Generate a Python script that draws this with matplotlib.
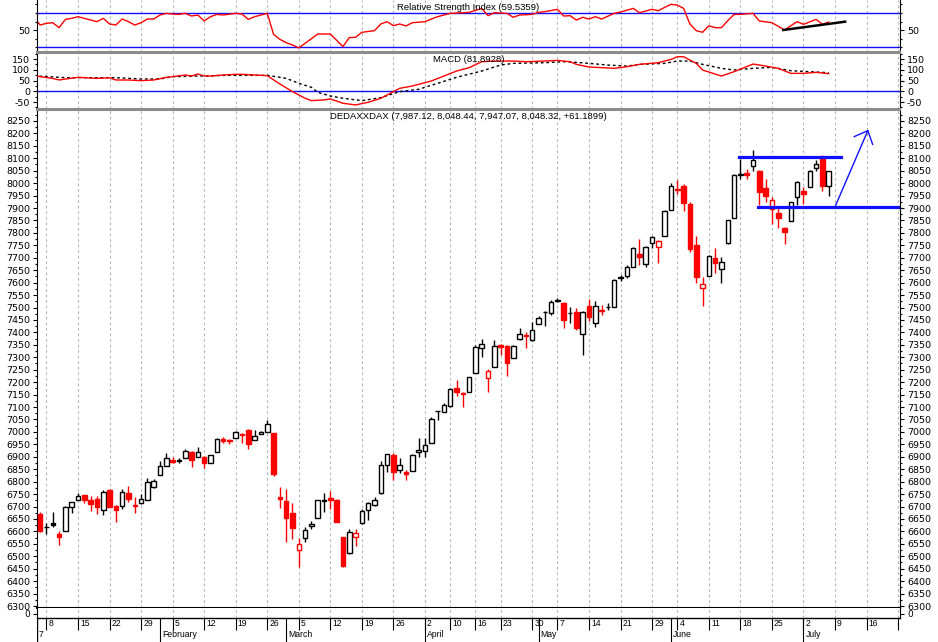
import matplotlib.pyplot as plt
from matplotlib.ticker import MultipleLocator

plt.rcParams['font.family'] = ['DejaVu Sans']
plt.rcParams['axes.unicode_minus'] = False

# DAX daily candles, 5 Jan 2007 .. 6 Jul 2007 (index = trading day)
opens = [6670, 6616, 6635, 6589, 6603, 6699, 6727, 6745, 6726, 6731,
         6687, 6765, 6702, 6702, 6753, 6705, 6713, 6726, 6780, 6828,
         6863, 6886, 6882, 6894, 6920, 6900, 6900, 6876, 6920, 6970,
         6969, 6974, 6991, 7006, 6966, 6991, 7001, 6994, 6737, 6722,
         6672, 6525, 6572, 6620, 6655, 6722, 6735, 6726, 6579, 6512,
         6576, 6632, 6686, 6705, 6753, 6866, 6907, 6845, 6840, 6843,
         6919, 6923, 6954, 7082, 7081, 7104, 7178, 7158, 7159, 7235,
         7336, 7215, 7262, 7351, 7347, 7296, 7372, 7390, 7370, 7434,
         7480, 7479, 7527, 7517, 7477, 7481, 7394, 7506, 7437, 7489,
         7501, 7504, 7619, 7627, 7664, 7715, 7675, 7761, 7745, 7789,
         7890, 7975, 7989, 7916, 7751, 7580, 7627, 7700, 7654, 7758,
         7859, 8034, 8040, 8069, 8049, 7979, 7896, 7881, 7818, 7849,
         7946, 7970, 7983, 8060, 8104, 7987.12]
highs = [6678, 6635, 6676, 6601, 6702, 6719, 6754, 6748, 6742, 6742,
         6765, 6769, 6706, 6769, 6782, 6740, 6749, 6813, 6812, 6884,
         6916, 6898, 6894, 6930, 6924, 6938, 6903, 6906, 6975, 6981,
         6972, 7004, 6994, 7013, 7008, 7002, 7048, 6997, 6780, 6769,
         6713, 6572, 6616, 6643, 6726, 6754, 6762, 6729, 6579, 6608,
         6608, 6689, 6720, 6737, 6883, 6911, 6914, 6896, 6847, 6910,
         6974, 6974, 7061, 7084, 7115, 7178, 7209, 7160, 7222, 7349,
         7372, 7253, 7370, 7353, 7349, 7350, 7416, 7403, 7440, 7467,
         7487, 7530, 7540, 7521, 7504, 7500, 7486, 7534, 7528, 7510,
         7517, 7613, 7631, 7671, 7742, 7774, 7747, 7788, 7770, 7892,
         8002, 8013, 7997, 7926, 7788, 7624, 7710, 7741, 7705, 7853,
         8036, 8096, 8056, 8133, 8052, 8016, 7946, 7902, 7822, 7925,
         8010, 7986, 8052, 8091, 8113, 8048.44]
lows = [6599, 6589, 6619, 6546, 6603, 6672, 6727, 6715, 6683, 6670,
        6664, 6697, 6639, 6690, 6718, 6672, 6712, 6726, 6774, 6828,
        6863, 6874, 6874, 6894, 6860, 6898, 6853, 6876, 6920, 6954,
        6952, 6974, 6954, 6932, 6966, 6990, 6998, 6823, 6693, 6559,
        6568, 6458, 6559, 6611, 6653, 6679, 6689, 6636, 6458, 6509,
        6542, 6630, 6646, 6703, 6750, 6840, 6807, 6836, 6806, 6841,
        6898, 6900, 6954, 7048, 7079, 7101, 7146, 7099, 7159, 7235,
        7302, 7162, 7262, 7309, 7225, 7296, 7370, 7339, 7367, 7432,
        7426, 7470, 7524, 7416, 7437, 7410, 7309, 7446, 7420, 7470,
        7490, 7503, 7608, 7618, 7664, 7671, 7664, 7738, 7680, 7789,
        7890, 7956, 7886, 7725, 7597, 7508, 7627, 7638, 7600, 7756,
        7858, 8016, 8016, 8050, 7912, 7926, 7835, 7818, 7754, 7849,
        7912, 7916, 7983, 8049, 7970, 7947.07]
closes = [6603, 6618, 6627, 6576, 6698, 6717, 6741, 6727, 6711, 6698,
          6758, 6698, 6687, 6758, 6729, 6702, 6731, 6797, 6801, 6861,
          6894, 6880, 6885, 6924, 6886, 6920, 6874, 6906, 6971, 6965,
          6962, 6998, 6987, 6951, 6984, 7001, 7032, 6831, 6729, 6652,
          6615, 6548, 6605, 6630, 6726, 6727, 6725, 6636, 6462, 6599,
          6592, 6683, 6713, 6726, 6867, 6911, 6840, 6867, 6831, 6907,
          6927, 6947, 7052, 7083, 7108, 7171, 7162, 7151, 7219, 7343,
          7352, 7246, 7347, 7343, 7276, 7347, 7392, 7387, 7410, 7459,
          7482, 7521, 7529, 7450, 7479, 7419, 7483, 7463, 7508, 7487,
          7503, 7609, 7621, 7662, 7738, 7702, 7742, 7782, 7767, 7886,
          7989, 7973, 7922, 7734, 7621, 7595, 7709, 7680, 7682, 7852,
          8033, 8037, 8034, 8091, 7966, 7950, 7932, 7861, 7805, 7923,
          8006, 7957, 8050, 8076, 7990, 8048.32]

# RSI (14)
rsi_idx = [-1, 0, 1, 2, 3, 4, 5, 6, 7, 9, 10, 11, 12, 13, 14, 15, 16, 17, 18, 19,
           20, 21, 22, 23, 24, 25, 26, 27, 28, 29, 31, 32, 33, 34, 35, 36, 37, 38, 39, 40,
           41, 42, 43, 44, 45, 46, 48, 49, 50, 51, 53, 54, 55, 56, 57, 58, 59, 61, 62, 63,
           64, 65, 68, 70, 71, 72, 74, 75, 76, 78, 79, 80, 82, 83, 84, 85, 86, 87, 88, 89,
           91, 92, 94, 95, 97, 98, 99, 100, 101, 102, 103, 104, 105, 106, 107, 108, 109, 110, 111, 113,
           114, 116, 118, 119, 120, 121, 123, 124, 125]
rsi_val = [65, 56.0, 58.0, 58.7, 52.9, 62.6, 63.8, 65.7, 63.8, 59.9, 63.8, 57.2, 56.0, 63.0, 59.9, 56.0, 58.7, 63.0, 63.0, 67.7,
           69.6, 68.8, 68.4, 69.6, 66.5, 67.7, 60.7, 65.7, 68.4, 67.7, 69.6, 68.8, 62.6, 65.7, 67.7, 69.6, 45.1, 39.3, 35.4, 32.7,
           29.2, 34.7, 40.0, 45.5, 45.5, 45.5, 30.8, 41.3, 41.7, 47.5, 49.4, 57.2, 59.9, 55.2, 57.2, 54.9, 58.7, 59.9, 63.0, 65.7,
           67.7, 69.6, 70.8, 75.4, 66.9, 70.4, 69.6, 65.0, 67.7, 68.4, 70.8, 71.6, 74.3, 66.5, 66.9, 61.8, 65.0, 63.0, 65.7, 63.0,
           69.6, 71.2, 75.4, 70.4, 74.3, 72.7, 76.6, 80.1, 79.3, 75.4, 57.2, 49.4, 47.5, 55.2, 52.9, 52.9, 61.1, 68.4, 68.4, 69.6,
           60.7, 58.7, 50.2, 55.2, 59.9, 56.8, 62.6, 56.8, 59.5359]

# MACD line and signal line
macd_idx = [-1, 0, 2, 3, 4, 6, 9, 11, 12, 14, 16, 18, 20, 21, 23, 24, 25, 26, 27, 29,
            31, 32, 36, 38, 40, 42, 43, 45, 46, 48, 50, 52, 54, 56, 57, 59, 62, 64, 66, 68,
            70, 72, 75, 77, 80, 82, 84, 85, 87, 89, 91, 93, 95, 98, 100, 101, 102, 104, 105, 108,
            110, 113, 115, 117, 119, 121, 123, 125]
macd_val = [72, 68, 60, 52.6, 57, 65, 60, 63, 52.6, 52.6, 49.5, 52.6, 65, 68, 75.8, 71, 80.4, 71, 71, 75.8,
            79, 79, 72.7, 34, -1.5, -32.5, -43.3, -40, -35.6, -55.7, -63.4, -51, -32.5, -1.5, 13.9, 24.7, 47.9, 71, 94.3, 109.8,
            137.6, 140.7, 140.7, 137.6, 140.7, 143.8, 137.6, 125.3, 113, 110, 106.7, 114.4, 125.3, 133, 148.4, 160.8, 160.8, 129.9, 99, 71,
            91.2, 126.8, 117.5, 106.7, 83.5, 83.5, 88.1, 81.8928]
sig_idx = [-1, 4, 9, 12, 16, 19, 21, 25, 30, 36, 39, 41, 43, 44, 46, 48, 51, 54, 57, 60,
           63, 66, 70, 73, 75, 80, 83, 85, 87, 90, 93, 95, 99, 101, 103, 105, 108, 110, 113, 116,
           119, 122, 125]
sig_val = [72, 63.4, 63.4, 63.4, 57.2, 57.2, 68, 71, 74.2, 74.2, 60.3, 37.1, 18.6, -5, -21.6, -32.5, -43.3, -29.4, -1.5, 9.3,
           37.1, 65, 94.3, 122.2, 129.9, 133, 137.6, 134.5, 130, 122, 117.5, 125.3, 129.9, 140.7, 140.7, 125.3, 106.7, 99, 106.7, 111.3,
           95.9, 91.2, 86.6]

# date axis
week_idx = [1, 6, 11, 16, 21, 26, 31, 36, 41, 46, 51, 56, 61, 65, 69, 73, 78, 82, 87, 92,
            97, 101, 106, 111, 116, 121, 126, 131, 136]
week_lbl = ['8', '15', '22', '29', '5', '12', '19', '26', '5', '12', '19', '26', '2', '10', '16', '23', '30', '7', '14', '21',
            '29', '4', '11', '18', '25', '2', '9', '16', '23']
month_idx = [19, 39, 61, 79, 100, 121]
month_lbl = ['February', 'March', 'April', 'May', 'June', 'July']

# hand-drawn annotations
resist = 8106
support = 7905
arrow_x = [126.0, 131.2]
arrow_y = [7905, 8211]
head_x = [129.05, 131.2, 131.96]
head_y = [8187, 8211, 8156]
rsi_trend_x = [117.8, 127.6]
rsi_trend_y = [50.2, 59.9]

RED = '#ff0000'
BLUE = '#1010ff'
GRID = '#b8b8b8'
SEP = '#8c8c8c'
XL = (-0.5, 136.3)

W, H = 938, 642
fig = plt.figure(figsize=(W / 100, H / 100), dpi=100)


def box(top, bottom):
    return [37 / W, 1 - bottom / H, 863 / W, (bottom - top) / H]


ax_rsi = fig.add_axes(box(0, 52))
ax_macd = fig.add_axes(box(53, 109))
ax = fig.add_axes(box(110, 608))
ax_vol = fig.add_axes(box(608, 618))
ax_date = fig.add_axes(box(618, 642))

for a in [ax_rsi, ax_macd, ax, ax_vol]:
    a.set_xlim(*XL)
    for w in week_idx:
        a.axvline(w, color=GRID, lw=0.8, ls=(0, (2.5, 2.5)), zorder=0)
    a.tick_params(axis='x', bottom=False, labelbottom=False)
    a.tick_params(axis='y', which='both', left=True, right=True, labelleft=True,
                  labelright=True, direction='out', labelsize=6.8, pad=2, width=0.8)
    a.tick_params(axis='y', which='major', length=3)
    a.tick_params(axis='y', which='minor', length=1.5)
    a.spines['left'].set_linewidth(0.8)
    a.spines['right'].set_linewidth(0.8)

# RSI panel
ax_rsi.set_ylim(24.5, 85.2)
ax_rsi.set_yticks([50])
ax_rsi.yaxis.set_minor_locator(MultipleLocator(10))
ax_rsi.axhline(70, color=BLUE, lw=1)
ax_rsi.axhline(30, color=BLUE, lw=1)
ax_rsi.plot(rsi_idx, rsi_val, color=RED, lw=1)
ax_rsi.plot(rsi_trend_x, rsi_trend_y, color='black', lw=1.8)
ax_rsi.spines['top'].set_visible(False)
ax_rsi.spines['bottom'].set_color(SEP)
ax_rsi.spines['bottom'].set_linewidth(1.5)
ax_rsi.text(0.5, 0.865, 'Relative Strength Index (%.4f)' % rsi_val[-1], transform=ax_rsi.transAxes,
            ha='center', va='center', fontsize=6.8, family='Liberation Sans')

# MACD panel
ax_macd.set_ylim(-82.3, 178.1)
ax_macd.set_yticks([-50, 0, 50, 100, 150])
ax_macd.yaxis.set_minor_locator(MultipleLocator(25))
ax_macd.axhline(0, color=BLUE, lw=1)
ax_macd.plot(macd_idx, macd_val, color=RED, lw=1, zorder=3)
ax_macd.plot(sig_idx, sig_val, color='black', lw=1, ls=(0, (2, 2)), zorder=2)
for s in ['top', 'bottom']:
    ax_macd.spines[s].set_color(SEP)
    ax_macd.spines[s].set_linewidth(1.5)
ax_macd.text(0.5, 0.875, 'MACD (%.4f)' % macd_val[-1], transform=ax_macd.transAxes,
             ha='center', va='center', fontsize=6.8, family='Liberation Sans')

# price panel
ax.set_ylim(6292, 8294)
ax.set_yticks(range(6300, 8251, 50))
ax.yaxis.set_minor_locator(MultipleLocator(25))
ax.spines['top'].set_color(SEP)
ax.spines['top'].set_linewidth(1.5)
ax.spines['bottom'].set_linewidth(1.5)
for i in range(len(closes)):
    o, hi, lo, c = opens[i], highs[i], lows[i], closes[i]
    prev = closes[i - 1] if i > 0 else o
    col = RED if c < prev else 'black'
    face = 'white' if c >= o else col
    ax.vlines(i, lo, hi, color=col, lw=1, zorder=2)
    ax.bar(i, max(abs(c - o), 2), bottom=min(o, c), width=0.72, facecolor=face,
           edgecolor=col, linewidth=1, zorder=3)

ax.plot([110.8, 127.0], [resist, resist], color=BLUE, lw=2.3, zorder=4)
ax.plot([113.8, XL[1]], [support, support], color=BLUE, lw=2.3, zorder=4)
ax.plot(arrow_x, arrow_y, color=BLUE, lw=1, zorder=4)
ax.plot(head_x, head_y, color=BLUE, lw=1, zorder=4)
ax.text(0.5, 0.986, 'DEDAXXDAX (%s, %s, %s, %s, +61.1899)' % (
    format(opens[-1], ',.2f'), format(highs[-1], ',.2f'), format(lows[-1], ',.2f'), format(closes[-1], ',.2f')),
    transform=ax.transAxes, ha='center', va='center', fontsize=6.8, family='Liberation Sans')

# small volume strip
ax_vol.set_ylim(-0.9, 1.1)
ax_vol.set_yticks([0])
ax_vol.tick_params(axis='y', labelsize=6.5)
ax_vol.spines['top'].set_visible(False)
ax_vol.spines['bottom'].set_linewidth(1)

# date rows
ax_date.set_xlim(*XL)
ax_date.set_ylim(0, 2)
ax_date.axis('off')
ax_date.axvline(XL[0], color='black', lw=1)
ax_date.vlines(week_idx, 1, 2, color='black', lw=0.8)
ax_date.vlines(month_idx, 0, 2, color='black', lw=0.8)
for w, lbl in zip(week_idx, week_lbl):
    ax_date.annotate(lbl, (w, 1.52), xytext=(1.5, 0), textcoords='offset points', ha='left',
                     va='center', fontsize=6.2, family='Liberation Sans', clip_on=True)
for m, lbl in zip(month_idx, month_lbl):
    ax_date.annotate(lbl, (m, 0.62), xytext=(1.5, 0), textcoords='offset points', ha='left',
                     va='center', fontsize=6.2, family='Liberation Sans')
ax_date.annotate('7', (XL[0], 0.62), xytext=(1.5, 0), textcoords='offset points', ha='left',
                 va='center', fontsize=6.2, family='Liberation Sans')

fig.savefig('out.png', dpi=100)
